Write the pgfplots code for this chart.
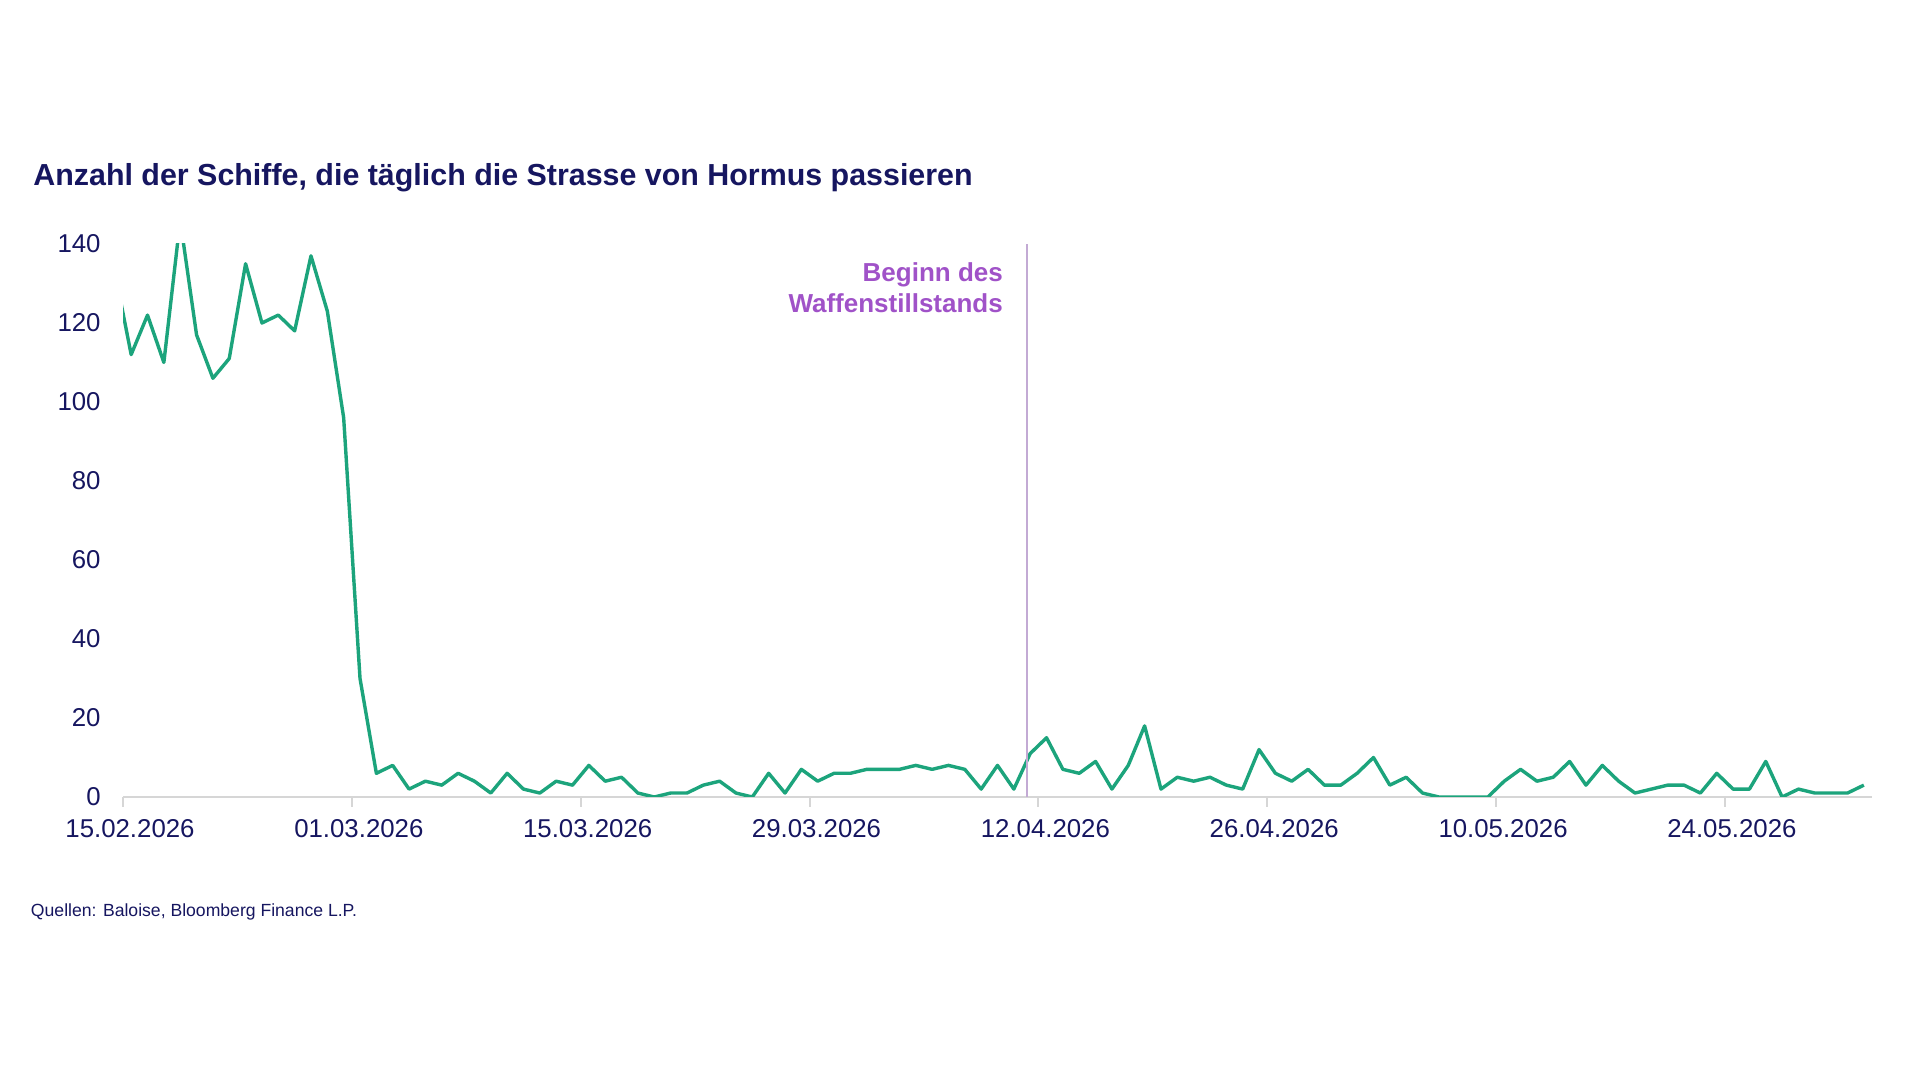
\documentclass[border=0pt]{standalone}
\usepackage{pgfplots}
\pgfplotsset{compat=1.18}
\usepackage{fontspec}
\setmainfont{Liberation Sans}
\definecolor{navy}{RGB}{22,22,96}
\definecolor{lineGreen}{RGB}{28,164,124}
\definecolor{vlin}{RGB}{195,170,212}
\definecolor{annot}{RGB}{160,82,200}
\definecolor{axgray}{RGB}{214,214,214}
\pgfplotstableread{
x y
-0.5 133
0.5 112
1.5 122
2.5 110
3.5 146
4.5 117
5.5 106
6.5 111
7.5 135
8.5 120
9.5 122
10.5 118
11.5 137
12.5 123
13.5 96
14.5 30
15.5 6
16.5 8
17.5 2
18.5 4
19.5 3
20.5 6
21.5 4
22.5 1
23.5 6
24.5 2
25.5 1
26.5 4
27.5 3
28.5 8
29.5 4
30.5 5
31.5 1
32.5 0
33.5 1
34.5 1
35.5 3
36.5 4
37.5 1
38.5 0
39.5 6
40.5 1
41.5 7
42.5 4
43.5 6
44.5 6
45.5 7
46.5 7
47.5 7
48.5 8
49.5 7
50.5 8
51.5 7
52.5 2
53.5 8
54.5 2
55.5 11
56.5 15
57.5 7
58.5 6
59.5 9
60.5 2
61.5 8
62.5 18
63.5 2
64.5 5
65.5 4
66.5 5
67.5 3
68.5 2
69.5 12
70.5 6
71.5 4
72.5 7
73.5 3
74.5 3
75.5 6
76.5 10
77.5 3
78.5 5
79.5 1
80.5 0
81.5 0
82.5 0
83.5 0
84.5 4
85.5 7
86.5 4
87.5 5
88.5 9
89.5 3
90.5 8
91.5 4
92.5 1
93.5 2
94.5 3
95.5 3
96.5 1
97.5 6
98.5 2
99.5 2
100.5 9
101.5 0
102.5 2
103.5 1
104.5 1
105.5 1
106.5 3
}\ships
\begin{document}
\begin{tikzpicture}[x=1pt,y=1pt]
\path[use as bounding box, fill=white] (0,0) rectangle (960,540);
\node[anchor=base west, inner sep=0pt, font=\fontsize{15.2}{18}\selectfont\bfseries, text=navy] at (16.5,447) {Anzahl der Schiffe, die täglich die Strasse von Hormus passieren};
\begin{axis}[
  at={(61.5pt,141.5pt)}, anchor=south west,
  scale only axis, width=874.5pt, height=276.5pt,
  xmin=0, xmax=107, ymin=0, ymax=140,
  axis x line*=bottom, axis y line*=left,
  x axis line style={draw=axgray, line width=1pt, -},
  y axis line style={draw=none},
  xtick={0,14,28,42,56,70,84,98},
  xticklabels={15.02.2026,01.03.2026,15.03.2026,29.03.2026,12.04.2026,26.04.2026,10.05.2026,24.05.2026},
  ytick={0,20,40,60,80,100,120,140},
  tick align=outside,
  xtick style={draw=axgray, line width=1pt},
  ytick style={draw=none},
  major tick length=5pt,
  /pgf/number format/assume math mode=true,
  x tick label style={font=\fontsize{12.9}{15}\selectfont, text=navy, inner sep=0pt, anchor=north, yshift=-6pt, xshift=3.5pt},
  y tick label style={font=\fontsize{12.9}{15}\selectfont, text=navy, inner sep=0pt, anchor=east, xshift=-6pt},
]
\addplot[lineGreen, line width=1.7pt, line join=round] table[x=x, y=y] {\ships};
\draw[vlin, line width=0.8pt] (axis cs:55.3,0) -- (axis cs:55.3,140);
\node[anchor=base east, inner sep=0pt, font=\fontsize{13}{16}\selectfont\bfseries, text=annot, yshift=-18.7pt] at (axis cs:53.85,140) {Beginn des};
\node[anchor=base east, inner sep=0pt, font=\fontsize{13}{16}\selectfont\bfseries, text=annot, yshift=-34.5pt] at (axis cs:53.85,140) {Waffenstillstands};
\end{axis}
\node[anchor=base west, inner sep=0pt, font=\fontsize{8.8}{10}\selectfont, text=navy] at (15.3,81.5) {Quellen: Baloise, Bloomberg Finance L.P.};
\end{tikzpicture}
\end{document}
